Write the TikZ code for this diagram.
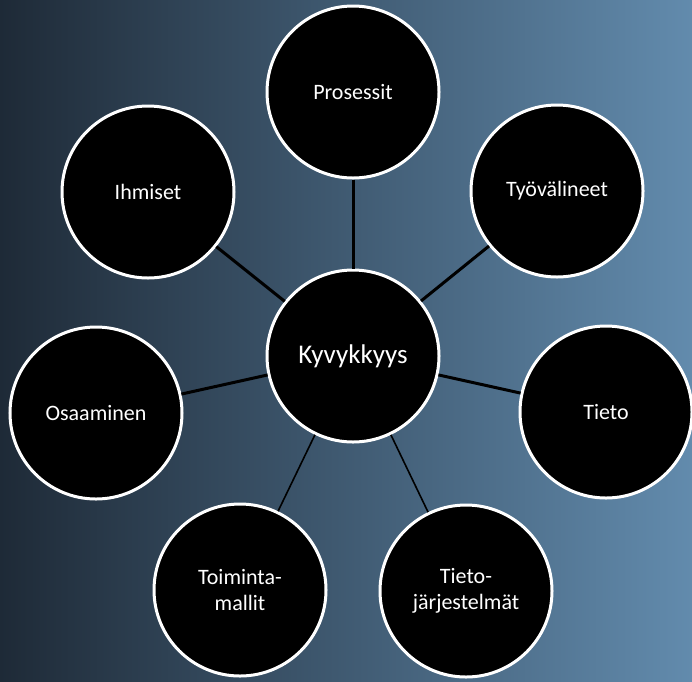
\documentclass[tikz,border=0pt]{standalone}
\usepackage{fontspec}
\setmainfont{Carlito}
\usepackage{tikz}
\usetikzlibrary{backgrounds}

\definecolor{bgleft}{HTML}{1E2A37}
\definecolor{bgright}{HTML}{628BAD}

\begin{document}
\begin{tikzpicture}[x=1pt,y=-1pt,
    osa/.style={circle,draw=white,line width=3pt,fill=black,minimum size=172pt,
      inner sep=0pt,text=white,font=\fontsize{22}{26}\selectfont,align=center},
    yhteys/.style={line width=3pt,black},
    ohut/.style={line width=1.6pt,black}]

   \fill[left color=bgleft,right color=bgright] (0,0) rectangle (692,681);
   \useasboundingbox (0,0) rectangle (692,681);

   \node[osa,font=\fontsize{27}{31}\selectfont] (kyky) at (353,356) {Kyvykkyys};

   \node[osa] (prosessit) at (353,92) {Prosessit};
   \node[osa] (ihmiset) at (148,192) {Ihmiset};
   \node[osa] (tyovalineet) at (557,191) {Työvälineet};
   \node[osa] (osaaminen) at (96,413) {Osaaminen};
   \node[osa] (tieto) at (606,412) {Tieto};
   \node[osa] (toiminta) at (240,590) {Toiminta-\\mallit};
   \node[osa] (jarjestelmat) at (466,591) {Tieto-\\järjestelmät};

   %\draw (kyky) -- (prosessit);
   \draw[yhteys] (kyky) -- (prosessit);
   \draw[yhteys] (kyky) -- (ihmiset);
   \draw[yhteys] (kyky) -- (tyovalineet);
   \draw[yhteys] (kyky) -- (osaaminen);
   \draw[yhteys] (kyky) -- (tieto);
   \draw[ohut] (kyky) -- (toiminta);
   \draw[ohut] (kyky) -- (jarjestelmat);

\end{tikzpicture}
\end{document}
